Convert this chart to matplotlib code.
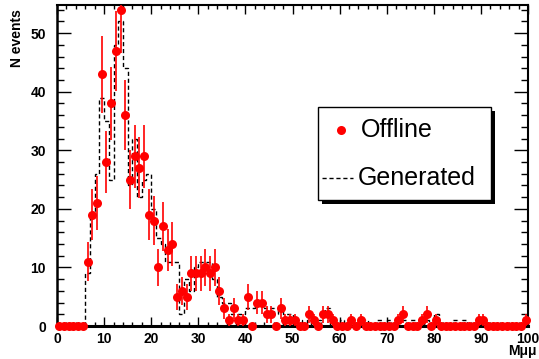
import numpy as np
import matplotlib
matplotlib.use("Agg")
import matplotlib.pyplot as plt
from matplotlib.patches import Rectangle
from matplotlib.lines import Line2D
from matplotlib.ticker import MultipleLocator

# Dimuon invariant mass, 1 GeV bins from 0 to 100
bin_edges = np.arange(0, 101, 1)

# Offline reconstructed events per bin
offline_counts = [
    0, 0, 0, 0, 0, 0, 11, 19, 21, 43,
    28, 38, 47, 54, 36, 25, 29, 27, 29, 19,
    18, 10, 17, 13, 14, 5, 6, 5, 9, 9,
    9, 10, 9, 10, 6, 3, 1, 3, 1, 1,
    5, 0, 4, 4, 2, 2, 0, 3, 1, 1,
    1, 0, 0, 2, 1, 0, 2, 2, 1, 0,
    0, 0, 1, 0, 1, 0, 0, 0, 0, 0,
    0, 0, 1, 2, 0, 0, 0, 1, 2, 0,
    1, 0, 0, 0, 0, 0, 0, 0, 0, 1,
    1, 0, 0, 0, 0, 0, 0, 0, 0, 1,
]

# Generator-level expectation per bin
generated_counts = [
    0, 0, 0, 0, 0, 0, 9, 19, 26, 39,
    35, 25, 48, 52, 44, 24, 32, 22, 25, 26,
    20, 15, 14, 11, 11, 11, 2, 8, 6, 10,
    11, 11, 11, 8, 5, 4, 4, 2, 2, 2,
    3, 3, 4, 4, 3, 3, 2, 3, 2, 2,
    1, 1, 0, 1, 1, 1, 2, 3, 1, 0,
    1, 0, 1, 0, 1, 1, 0, 0, 1, 0,
    1, 0, 1, 1, 0, 1, 1, 0, 1, 0,
    2, 0, 0, 0, 1, 0, 1, 0, 0, 1,
    1, 0, 0, 0, 0, 0, 0, 0, 0, 0,
]

x_ticks = [0, 10, 20, 30, 40, 50, 60, 70, 80, 90, 100]
y_ticks = [0, 10, 20, 30, 40, 50]

W, H = 539, 359
fig = plt.figure(figsize=(W / 100, H / 100), dpi=100)
fig.patch.set_facecolor("white")

ax = fig.add_axes([57 / W, 1 - 326 / H, (528 - 57) / W, (326 - 5) / H])

font = ["Liberation Sans", "DejaVu Sans"]

# Generated: dashed outline histogram
ax.stairs(generated_counts, bin_edges, color="black", linewidth=1.0,
          linestyle=(0, (3, 2)), baseline=0, zorder=2)

# Offline: points with Poisson errors
centers = 0.5 * (bin_edges[:-1] + bin_edges[1:])
counts = np.array(offline_counts, dtype=float)
errs = np.sqrt(counts)
ax.errorbar(centers, counts, yerr=errs, fmt="none", ecolor="red",
            elinewidth=1.2, capsize=0, zorder=3)
ax.plot(centers, counts, "o", color="red", markersize=6.5, markeredgewidth=0,
        clip_on=False, zorder=4)

ax.set_xlim(0, 100)
ax.set_ylim(0, 54.8)

ax.set_xticks(x_ticks)
ax.set_yticks(y_ticks)
ax.xaxis.set_minor_locator(MultipleLocator(2))
ax.yaxis.set_minor_locator(MultipleLocator(2))

ax.tick_params(axis="x", which="both", direction="in", top=True, bottom=True,
               width=1.0, pad=4)
ax.tick_params(axis="x", which="major", length=6.5)
ax.tick_params(axis="x", which="minor", length=3.2)
ax.tick_params(axis="y", which="both", direction="in", left=True, right=True,
               width=1.0, pad=8)
ax.tick_params(axis="y", which="major", length=10)
ax.tick_params(axis="y", which="minor", length=5)

for lab in ax.get_xticklabels() + ax.get_yticklabels():
    lab.set_fontfamily(font)
    lab.set_fontweight("bold")
    lab.set_fontsize(10)

for side, sp in ax.spines.items():
    sp.set_linewidth(1.5)
ax.spines["bottom"].set_linewidth(2.2)
ax.spines["left"].set_linewidth(1.8)

fig.text(17 / W, 1 - 9 / H, "N events", rotation=90, ha="center", va="top",
         fontsize=10, fontweight="bold", family=font)
fig.text(508 / W, 1 - 351 / H, "Mμμ", ha="left", va="center",
         fontsize=10, fontweight="bold", family=font)

# Legend box with drop shadow
lx0, ly0, lx1, ly1 = 318, 107, 491, 200
fig.patches.append(Rectangle(((lx0 + 4) / W, 1 - (ly1 + 4) / H),
                             (lx1 - lx0) / W, (ly1 - ly0) / H,
                             transform=fig.transFigure, facecolor="black",
                             edgecolor="black", linewidth=0, zorder=5))
fig.patches.append(Rectangle((lx0 / W, 1 - ly1 / H),
                             (lx1 - lx0) / W, (ly1 - ly0) / H,
                             transform=fig.transFigure, facecolor="white",
                             edgecolor="black", linewidth=1.0, zorder=6))
fig.lines.append(Line2D([341 / W], [1 - 130 / H], marker="o", color="red",
                        markersize=6.5, markeredgewidth=0,
                        transform=fig.transFigure, zorder=7))
fig.lines.append(Line2D([322 / W, 353 / W], [1 - 178 / H, 1 - 178 / H],
                        color="black", linewidth=1.0, linestyle=(0, (3, 2)),
                        transform=fig.transFigure, zorder=7))
fig.text(361 / W, 1 - 130 / H, "Offline", ha="left", va="center",
         fontsize=18, family=font, zorder=8)
fig.text(358 / W, 1 - 178 / H, "Generated", ha="left", va="center",
         fontsize=18, family=font, zorder=8)

fig.savefig("out.png", dpi=100, facecolor="white")
